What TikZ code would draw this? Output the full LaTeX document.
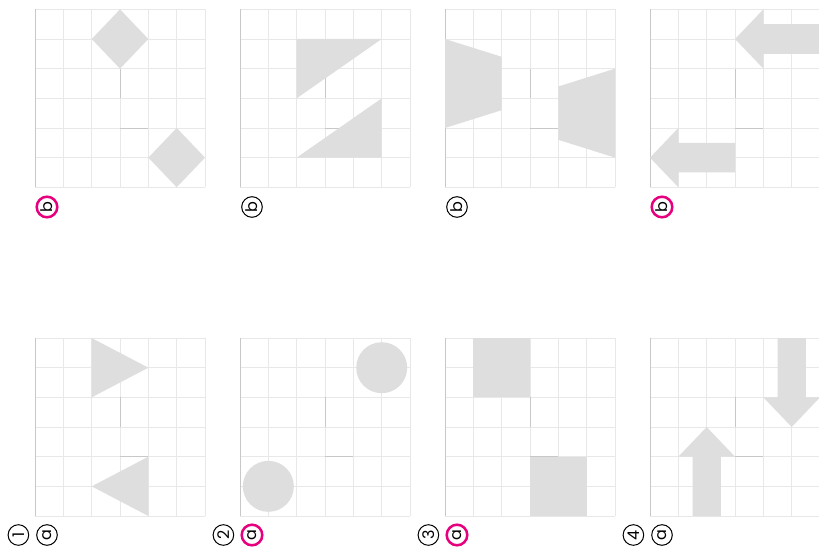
\documentclass[tikz,border=0pt]{standalone}
\usepackage{fontspec}
\setsansfont{Poppins}
\usetikzlibrary{positioning}

\definecolor{shapegray}{HTML}{DEDEDE}
\definecolor{gridgray}{HTML}{E8E8E8}
\definecolor{markgray}{HTML}{C8C8C8}
\definecolor{answerpink}{HTML}{E6007E}

\tikzset{
  shapefill/.style={fill=shapegray, draw=none},
  gridline/.style={gridgray, line width=0.45pt},
  markline/.style={markgray, line width=0.45pt},
  optlabel/.style={circle, draw, line width=0.5pt, inner sep=0pt, outer sep=0pt,
    minimum size=10.3pt, font=\sffamily\fontsize{8}{8}\selectfont},
  chosen/.style={draw=answerpink, line width=1.25pt},
  panel/.style={x=14.17pt, y=14.83pt},
}

\begin{document}
\begin{tikzpicture}
    \useasboundingbox (0,0) rectangle (409.5pt, 276.5pt);

    % Grids (6 x 6), one per panel
    \foreach \gx in {17.5, 120, 222.5, 325}
      \foreach \gy in {18.5, 182.85} {
        \begin{scope}[shift={(\gx pt, \gy pt)}, panel]
          \foreach \i in {1,...,6} {
            \draw[gridline] (\i,0) -- (\i,6);
            \draw[gridline] (0,\i) -- (6,\i);
          }
          \draw[gridline] (0,0) -- (6,0);
          \draw[markline] (0,0) -- (0,6);
          \draw[markline] (3,3) -- (3,4);
          \draw[markline] (3,2) -- (4,2);
        \end{scope}
      }

    % Panel 1b: diamonds
    \begin{scope}[shift={(17.5pt, 182.85pt)}, panel]
      \fill[shapefill] (2,5) -- (3,6) -- (4,5) -- (3,4) -- cycle;
      \fill[shapefill] (4,1) -- (5,2) -- (6,1) -- (5,0) -- cycle;
    \end{scope}

    % Panel 2b: right triangles
    \begin{scope}[shift={(120pt, 182.85pt)}, panel]
      \fill[shapefill] (2,5) -- (5,5) -- (2,3) -- cycle;
      \fill[shapefill] (2,1) -- (5,1) -- (5,3) -- cycle;
    \end{scope}

    % Panel 3b: trapezoids
    \begin{scope}[shift={(222.5pt, 182.85pt)}, panel]
      \fill[shapefill] (0,5) -- (2,4.4) -- (2,2.6) -- (0,2) -- cycle;
      \fill[shapefill] (6,4) -- (4,3.4) -- (4,1.6) -- (6,1) -- cycle;
    \end{scope}

    % Panel 4b: arrows pointing left
    \begin{scope}[shift={(325pt, 182.85pt)}, panel]
      \fill[shapefill] (3,5) -- (4,6) -- (4,5.5) -- (6,5.5) -- (6,4.5) -- (4,4.5) -- (4,4) -- cycle;
      \fill[shapefill] (0,1) -- (1,2) -- (1,1.5) -- (3,1.5) -- (3,0.5) -- (1,0.5) -- (1,0) -- cycle;
    \end{scope}

    % Panel 1a: triangles
    \begin{scope}[shift={(17.5pt, 18.5pt)}, panel]
      \fill[shapefill] (2,6) -- (4,5) -- (2,4) -- cycle;
      \fill[shapefill] (4,2) -- (2,1) -- (4,0) -- cycle;
    \end{scope}

    % Panel 2a: discs
    \begin{scope}[shift={(120pt, 18.5pt)}, panel]
      \fill[shapefill] (5,5) circle[radius=12.75pt];
      \fill[shapefill] (1,1) circle[radius=12.75pt];
    \end{scope}

    % Panel 3a: squares
    \begin{scope}[shift={(222.5pt, 18.5pt)}, panel]
      \fill[shapefill] (1,4) rectangle (3,6);
      \fill[shapefill] (3,0) rectangle (5,2);
    \end{scope}

    % Panel 4a: arrows up and down
    \begin{scope}[shift={(325pt, 18.5pt)}, panel]
      \fill[shapefill] (4.5,6) -- (5.5,6) -- (5.5,4) -- (6,4) -- (5,3) -- (4,4) -- (4.5,4) -- cycle;
      \fill[shapefill] (1.5,0) -- (2.5,0) -- (2.5,2) -- (3,2) -- (2,3) -- (1,2) -- (1.5,2) -- cycle;
    \end{scope}

    % Labels b (top row)
    \node[optlabel, chosen] (opt1b) at (23.5pt, 173pt) {\rotatebox{90}{b}};
    \node[optlabel]         (opt2b) at (126pt, 173pt)  {\rotatebox{90}{b}};
    \node[optlabel]         (opt3b) at (228.5pt, 173pt) {\rotatebox{90}{b}};
    \node[optlabel, chosen] (opt4b) at (331pt, 173pt)  {\rotatebox{90}{b}};

    % Labels a (bottom row) and item numbers
    \node[optlabel]         (opt1a) at (23.5pt, 9pt)  {\rotatebox{90}{a}};
    \node[optlabel, chosen] (opt2a) at (126pt, 9pt)   {\rotatebox{90}{a}};
    \node[optlabel, chosen] (opt3a) at (228.5pt, 9pt) {\rotatebox{90}{a}};
    \node[optlabel]         (opt4a) at (331pt, 9pt)   {\rotatebox{90}{a}};
    \node[optlabel, left=4pt of opt1a] (item1) {\rotatebox{90}{1}};
    \node[optlabel, left=4pt of opt2a] (item2) {\rotatebox{90}{2}};
    \node[optlabel, left=4pt of opt3a] (item3) {\rotatebox{90}{3}};
    \node[optlabel, left=4pt of opt4a] (item4) {\rotatebox{90}{4}};
\end{tikzpicture}
\end{document}
